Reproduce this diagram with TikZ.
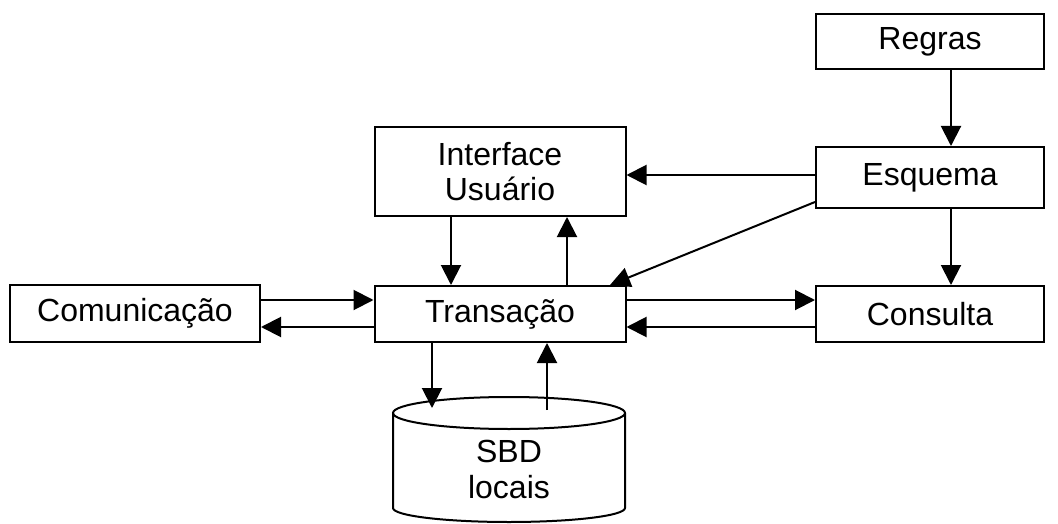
\documentclass[tikz,border=0pt]{standalone}
\usepackage{fontspec}
\setmainfont{Liberation Sans}
\usetikzlibrary{arrows.meta}
\begin{document}
\begin{tikzpicture}[x=1pt,y=-1pt,
  box/.style={draw, line width=2pt, font=\fontsize{32}{35}\selectfont,
    align=center, inner sep=0pt},
  arr/.style={-{Triangle[length=20pt,width=20pt]}, line width=2pt}]
\useasboundingbox (0,0) rectangle (1058,524);

% modules
\node[box, minimum width=228pt, minimum height=55pt] (regras) at (930,41.5) {Regras};
\node[box, minimum width=228pt, minimum height=61pt] (esq) at (930,177.5) {Esquema};
\node[box, minimum width=251pt, minimum height=89pt] (iface) at (500,171.5) {Interface\\Usuário};
\node[box, minimum width=251pt, minimum height=56pt] (trans) at (500,314) {Transação};
\node[box, minimum width=250pt, minimum height=57pt] (comm) at (135,313.5) {Comunicação};
\node[box, minimum width=228pt, minimum height=56pt] (cons) at (930,314) {Consulta};

% local database cylinder
\draw[line width=2pt] (393,413) -- (393,508)
  arc[start angle=180, end angle=0, x radius=116, y radius=14] -- (625,413);
\draw[line width=2pt] (509,413) ellipse [x radius=116, y radius=16];
\node[font=\fontsize{32}{36}\selectfont, align=center, inner sep=0pt] (sbd) at (509,469) {SBD\\locais};

% reference lines for the connectors
\coordinate (x432) at (432,0);
\coordinate (x451) at (451,0);
\coordinate (x547) at (547,0);
\coordinate (x567) at (567,0);
\coordinate (x610) at (610,0);
\coordinate (x951) at (951,0);
\coordinate (y175) at (0,175);
\coordinate (y202) at (0,202);
\coordinate (y300) at (0,300);
\coordinate (y327) at (0,327);
\coordinate (dbin) at (432,408);
\coordinate (dbout) at (547,410);

% connectors
\draw[arr] (regras.south -| x951) -- (esq.north -| x951);
\draw[arr] (esq.west |- y175) -- (iface.east |- y175);
\draw[arr] (esq.west |- y202) -- (trans.north -| x610);
\draw[arr] (esq.south -| x951) -- (cons.north -| x951);
\draw[arr] (iface.south -| x451) -- (trans.north -| x451);
\draw[arr] (trans.north -| x567) -- (iface.south -| x567);
\draw[arr] (comm.east |- y300) -- (trans.west |- y300);
\draw[arr] (trans.west |- y327) -- (comm.east |- y327);
\draw[arr] (trans.east |- y300) -- (cons.west |- y300);
\draw[arr] (cons.west |- y327) -- (trans.east |- y327);
\draw[arr] (trans.south -| x432) -- (dbin);
\draw[arr] (dbout) -- (trans.south -| x547);
\end{tikzpicture}
\end{document}
